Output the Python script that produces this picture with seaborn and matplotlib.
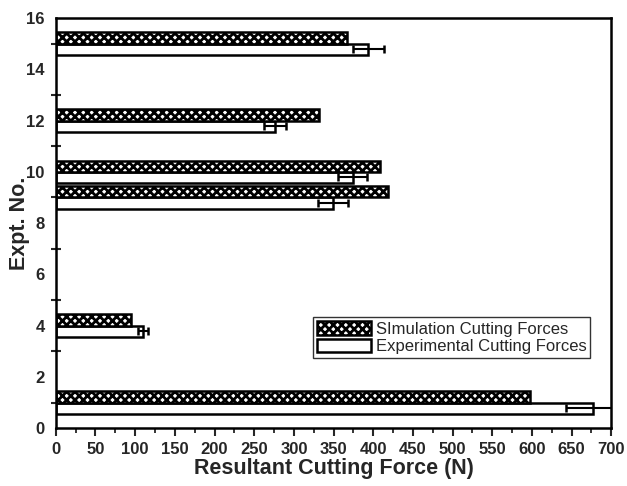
import pandas as pd
import numpy as np
import matplotlib.pyplot as plt
import seaborn as sns
from matplotlib.patches import Patch
from matplotlib.ticker import MultipleLocator

expt_no = [1, 4, 9, 10, 12, 15]
sim_force = [597, 95, 419, 409, 332, 367]
exp_force = [677, 110, 349, 374, 276, 394]
exp_err = [34, 6, 19, 18, 14, 20]

series_sim = 'SImulation Cutting Forces'
series_exp = 'Experimental Cutting Forces'

df = pd.DataFrame({
    'expt': expt_no * 2,
    'force': exp_force + sim_force,
    'series': [series_exp] * len(expt_no) + [series_sim] * len(expt_no),
})

sns.set_style('ticks')
plt.rcParams['font.family'] = ['Liberation Sans', 'DejaVu Sans']
plt.rcParams['hatch.linewidth'] = 2.0

fig = plt.figure(figsize=(6.27, 4.86), dpi=100)
ax = fig.add_axes([0.089, 0.119, 0.886, 0.844])

sns.barplot(data=df, x='force', y='expt', hue='series', orient='h',
            hue_order=[series_exp, series_sim], native_scale=True,
            errorbar=None, width=0.88, palette=['white', 'white'],
            edgecolor='black', linewidth=1.8, legend=False, ax=ax)

for bar in ax.containers[1]:
    bar.set_hatch('xxxx')

# error bars on experimental bars
centers = [b.get_y() + b.get_height() / 2 for b in ax.containers[0]]
ax.errorbar(exp_force, centers, xerr=exp_err, fmt='none', ecolor='black',
            elinewidth=1.5, capsize=3, capthick=1.8)

ax.set_xlim(0, 700)
ax.set_ylim(0, 16)
ax.xaxis.set_major_locator(MultipleLocator(50))
ax.xaxis.set_minor_locator(MultipleLocator(25))
ax.yaxis.set_major_locator(MultipleLocator(2))
ax.yaxis.set_minor_locator(MultipleLocator(1))
ax.tick_params(axis='x', which='major', direction='out', length=6, width=1.5, pad=4)
ax.tick_params(axis='x', which='minor', direction='out', length=3.5, width=1.3)
ax.tick_params(axis='y', which='major', length=0, pad=8)
ax.tick_params(axis='y', which='minor', direction='inout', length=7, width=1.5)
ax.tick_params(labelsize=12)
for lab in ax.get_xticklabels() + ax.get_yticklabels():
    lab.set_fontweight('bold')

for sp in ax.spines.values():
    sp.set_visible(True)
    sp.set_linewidth(1.8)
    sp.set_color('black')

ax.set_xlabel('Resultant Cutting Force (N)', fontsize=15.5, fontweight='bold', labelpad=1)
ax.set_ylabel('Expt. No.', fontsize=15.5, fontweight='bold')
ax.yaxis.set_label_coords(-0.047, 0.5)

handles = [Patch(facecolor='white', edgecolor='black', hatch='xxxx', linewidth=1.8),
           Patch(facecolor='white', edgecolor='black', linewidth=1.8)]
leg = ax.legend(handles, [series_sim, series_exp], loc='upper left',
                bbox_to_anchor=(0.463, 0.271), borderaxespad=0, fontsize=12,
                frameon=True, fancybox=False, handlelength=3.2, handleheight=0.9,
                handletextpad=0.3, labelspacing=0.1, borderpad=0.25)
leg.get_frame().set_edgecolor('black')
leg.get_frame().set_linewidth(1.0)

fig.savefig('out.png', dpi=100, facecolor='white')
